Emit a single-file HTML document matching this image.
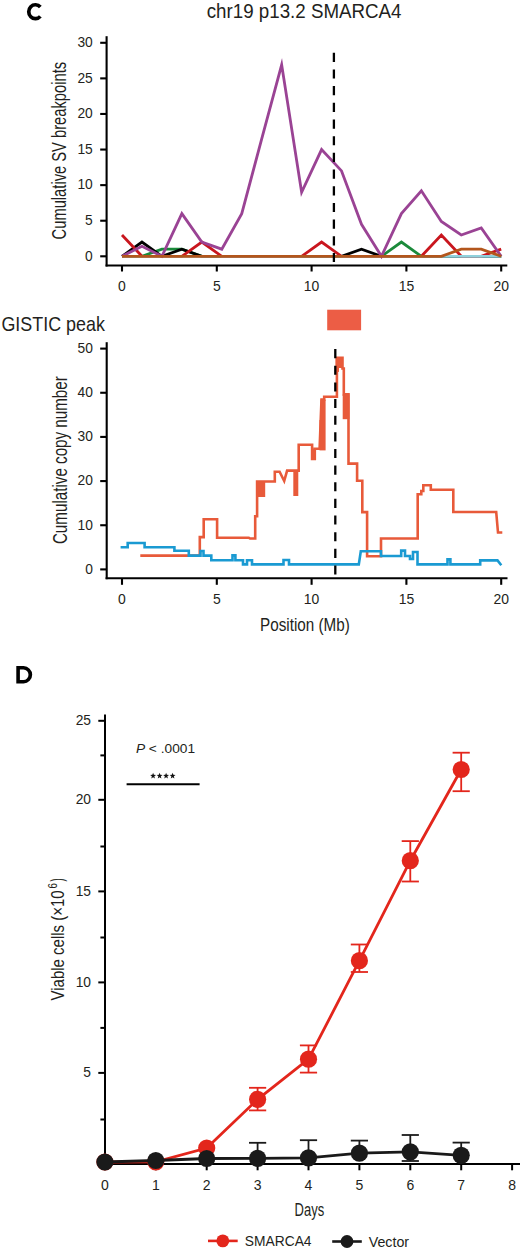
<!DOCTYPE html>
<html><head><meta charset="utf-8"><style>
html,body{margin:0;padding:0;background:#fff;}
svg{display:block;}
</style></head><body>
<svg width="520" height="1250" viewBox="0 0 520 1250">
<rect width="520" height="1250" fill="#fff"/>
<path d="M40.34,7.05 A6.65,6.95 0 1 0 40.34,16.35" fill="none" stroke="#000" stroke-width="3.7"/>
<text transform="translate(206.70,17.80) scale(0.9380,1)" style="font-family:&quot;Liberation Sans&quot;,sans-serif;font-size:20px;font-weight:normal;font-style:normal" fill="#231f20" >chr19 p13.2 SMARCA4</text>
<polyline points="122.00,256.30 141.96,256.30 161.92,249.18 181.87,249.18 201.83,256.30 221.79,256.30 241.75,256.30 261.71,256.30 281.66,256.30 301.62,256.30 321.58,256.30 341.54,256.30 361.49,256.30 381.45,256.30 401.41,242.07 421.37,256.30 441.33,256.30 461.28,256.30 481.24,256.30 501.20,256.30" fill="none" stroke="#1b8a3b" stroke-width="2.8" stroke-linejoin="miter" stroke-miterlimit="10" />
<polyline points="122.00,256.30 141.96,242.07 161.92,256.30 181.87,249.18 201.83,256.30 221.79,256.30 241.75,256.30 261.71,256.30 281.66,256.30 301.62,256.30 321.58,256.30 341.54,256.30 361.49,249.18 381.45,256.30 401.41,256.30 421.37,256.30 441.33,256.30 461.28,256.30 481.24,256.30 501.20,256.30" fill="none" stroke="#000000" stroke-width="2.8" stroke-linejoin="miter" stroke-miterlimit="10" />
<polyline points="122.00,234.95 141.96,256.30 161.92,256.30 181.87,256.30 201.83,242.07 221.79,256.30 241.75,256.30 261.71,256.30 281.66,256.30 301.62,256.30 321.58,242.07 341.54,256.30 361.49,256.30 381.45,256.30 401.41,256.30 421.37,256.30 441.33,234.95 461.28,256.30 481.24,256.30 501.20,249.18" fill="none" stroke="#c9161e" stroke-width="2.8" stroke-linejoin="miter" stroke-miterlimit="10" />
<polyline points="122.00,256.30 141.96,256.30 161.92,256.30 181.87,256.30 201.83,256.30 221.79,256.30 241.75,256.30 261.71,256.30 281.66,256.30 301.62,256.30 321.58,256.30 341.54,256.30 361.49,256.30 381.45,256.30 401.41,256.30 421.37,256.30 441.33,256.30 461.28,256.30 481.24,256.30 501.20,256.30" fill="none" stroke="#8fd1dc" stroke-width="2.8" stroke-linejoin="miter" stroke-miterlimit="10" />
<polyline points="122.00,256.30 141.96,246.34 161.92,256.30 181.87,213.60 201.83,242.07 221.79,249.18 241.75,213.60 261.71,138.87 281.66,64.85 301.62,192.25 321.58,149.55 341.54,170.90 361.49,224.27 381.45,256.30 401.41,213.60 421.37,190.82 441.33,221.43 461.28,234.95 481.24,227.83 501.20,256.30" fill="none" stroke="#9a4394" stroke-width="2.8" stroke-linejoin="miter" stroke-miterlimit="10" />
<polyline points="122.00,256.30 141.96,256.30 161.92,256.30 181.87,256.30 201.83,256.30 221.79,256.30 241.75,256.30 261.71,256.30 281.66,256.30 301.62,256.30 321.58,256.30 341.54,256.30 361.49,256.30 381.45,256.30 401.41,256.30 421.37,256.30 441.33,256.30 461.28,249.18 481.24,249.18 501.20,256.30" fill="none" stroke="#b3561c" stroke-width="2.8" stroke-linejoin="miter" stroke-miterlimit="10" />
<line x1="333.90" y1="52.70" x2="333.90" y2="262.00" stroke="#000" stroke-width="2.3" stroke-dasharray="9.2 7.49"/>
<line x1="106.60" y1="36.20" x2="106.60" y2="266.50" stroke="#000" stroke-width="2.1" />
<line x1="105.60" y1="265.50" x2="507.30" y2="265.50" stroke="#000" stroke-width="2.1" />
<line x1="100.20" y1="256.30" x2="106.60" y2="256.30" stroke="#000" stroke-width="2.1" />
<text transform="translate(85.12,260.60) scale(0.9200,1)" style="font-family:&quot;Liberation Sans&quot;,sans-serif;font-size:15px;font-weight:normal;font-style:normal" fill="#231f20" >0</text>
<line x1="100.20" y1="220.72" x2="106.60" y2="220.72" stroke="#000" stroke-width="2.1" />
<text transform="translate(85.12,225.02) scale(0.9200,1)" style="font-family:&quot;Liberation Sans&quot;,sans-serif;font-size:15px;font-weight:normal;font-style:normal" fill="#231f20" >5</text>
<line x1="100.20" y1="185.13" x2="106.60" y2="185.13" stroke="#000" stroke-width="2.1" />
<text transform="translate(77.44,189.43) scale(0.9200,1)" style="font-family:&quot;Liberation Sans&quot;,sans-serif;font-size:15px;font-weight:normal;font-style:normal" fill="#231f20" >10</text>
<line x1="100.20" y1="149.55" x2="106.60" y2="149.55" stroke="#000" stroke-width="2.1" />
<text transform="translate(77.44,153.85) scale(0.9200,1)" style="font-family:&quot;Liberation Sans&quot;,sans-serif;font-size:15px;font-weight:normal;font-style:normal" fill="#231f20" >15</text>
<line x1="100.20" y1="113.96" x2="106.60" y2="113.96" stroke="#000" stroke-width="2.1" />
<text transform="translate(77.44,118.26) scale(0.9200,1)" style="font-family:&quot;Liberation Sans&quot;,sans-serif;font-size:15px;font-weight:normal;font-style:normal" fill="#231f20" >20</text>
<line x1="100.20" y1="78.38" x2="106.60" y2="78.38" stroke="#000" stroke-width="2.1" />
<text transform="translate(77.44,82.67) scale(0.9200,1)" style="font-family:&quot;Liberation Sans&quot;,sans-serif;font-size:15px;font-weight:normal;font-style:normal" fill="#231f20" >25</text>
<line x1="100.20" y1="42.79" x2="106.60" y2="42.79" stroke="#000" stroke-width="2.1" />
<text transform="translate(77.44,47.09) scale(0.9200,1)" style="font-family:&quot;Liberation Sans&quot;,sans-serif;font-size:15px;font-weight:normal;font-style:normal" fill="#231f20" >30</text>
<line x1="122.00" y1="265.50" x2="122.00" y2="271.50" stroke="#000" stroke-width="2.1" />
<text transform="translate(118.12,290.60) scale(0.9300,1)" style="font-family:&quot;Liberation Sans&quot;,sans-serif;font-size:15px;font-weight:normal;font-style:normal" fill="#231f20" >0</text>
<line x1="216.80" y1="265.50" x2="216.80" y2="271.50" stroke="#000" stroke-width="2.1" />
<text transform="translate(212.92,290.60) scale(0.9300,1)" style="font-family:&quot;Liberation Sans&quot;,sans-serif;font-size:15px;font-weight:normal;font-style:normal" fill="#231f20" >5</text>
<line x1="311.60" y1="265.50" x2="311.60" y2="271.50" stroke="#000" stroke-width="2.1" />
<text transform="translate(303.83,290.60) scale(0.9300,1)" style="font-family:&quot;Liberation Sans&quot;,sans-serif;font-size:15px;font-weight:normal;font-style:normal" fill="#231f20" >10</text>
<line x1="406.40" y1="265.50" x2="406.40" y2="271.50" stroke="#000" stroke-width="2.1" />
<text transform="translate(398.63,290.60) scale(0.9300,1)" style="font-family:&quot;Liberation Sans&quot;,sans-serif;font-size:15px;font-weight:normal;font-style:normal" fill="#231f20" >15</text>
<line x1="501.20" y1="265.50" x2="501.20" y2="271.50" stroke="#000" stroke-width="2.1" />
<text transform="translate(493.43,290.60) scale(0.9300,1)" style="font-family:&quot;Liberation Sans&quot;,sans-serif;font-size:15px;font-weight:normal;font-style:normal" fill="#231f20" >20</text>
<text transform="translate(66.40,239.40) rotate(-90) scale(0.7551,1)" style="font-family:&quot;Liberation Sans&quot;,sans-serif;font-size:19.5px" fill="#231f20">Cumulative SV breakpoints</text>
<text transform="translate(1.40,330.50) scale(0.8958,1)" style="font-family:&quot;Liberation Sans&quot;,sans-serif;font-size:20px;font-weight:normal;font-style:normal" fill="#231f20" >GISTIC peak</text>
<rect x="327.2" y="309.7" width="33.9" height="20.6" fill="#ec5d45"/>
<path d="M140.3,555.6 H199.8 V537.1 H203.7 V519.2 H217.1 V537.7 H248.8 L250.0,538.5 H255.2 V516.2 H257.1 V481.5 H274.8 V471.7 H279.6 L284.2,481.0 L287.1,470.6 H294.6 V494.8 H297.0 V470.6 H298.7 V444.8 H312.1 V459.0 H314.8 V448.7 H319.6 L321.5,399.6 H324.2 V396.7 H336.9 V357.8 H342.5 V368.5 H343.8 V394.4 H348.5 V463.6 H357.1 V480.8 H362.3 V512.1 H367.1 V556.3 H381.0 V538.5 H417.7 V494.2 H421.3 V491.0 H423.3 V485.2 H430.8 V489.8 H453.3 V512.0 H496.2 L498.0,532.5 H502.3" fill="none" stroke="#e85a3a" stroke-width="2.6"/>
<rect x="257.5" y="481" width="7.7" height="16.0" fill="#e85a3a"/>
<rect x="294.2" y="470" width="3.2" height="24.8" fill="#e85a3a"/>
<rect x="311.5" y="449" width="3.3" height="10.0" fill="#e85a3a"/>
<rect x="319.5" y="420" width="6.1" height="30.4" fill="#e85a3a"/>
<rect x="320.5" y="399.6" width="5.1" height="20.4" fill="#e85a3a"/>
<rect x="335.8" y="357.2" width="7.1" height="10.8" fill="#e85a3a"/>
<rect x="335.8" y="357.2" width="3.2" height="14.7" fill="#e85a3a"/>
<rect x="342.7" y="394.4" width="6.7" height="24.8" fill="#e85a3a"/>
<path d="M120.6,547.3 H127.7 V543.0 H144.6 V547.3 H174.4 V550.8 H188.8 V555.6 H200.5 V551.0 H203.5 V555.6 H211.3 V560.2 H232.5 V555.4 H235.4 V560.2 H243.0 V564.4 H247.0 V560.2 H252.0 V564.4 H283.5 V560.0 H289.0 V564.4 H358.8 L360.8,551.2 H381.0 V556.0 H401.2 V550.6 H405.0 V556.0 H410.0 V559.0 H413.0 V552.0 H417.5 V564.4 H447.5 V559.4 H450.4 V564.4 H480.2 V560.4 H497.5 L501.3,565.2" fill="none" stroke="#1a9ad2" stroke-width="2.6"/>
<line x1="335.30" y1="349.10" x2="335.30" y2="575.50" stroke="#000" stroke-width="2.3" stroke-dasharray="9.1 7.54"/>
<line x1="106.70" y1="342.20" x2="106.70" y2="579.20" stroke="#000" stroke-width="2.1" />
<line x1="105.60" y1="578.20" x2="507.50" y2="578.20" stroke="#000" stroke-width="2.1" />
<line x1="100.20" y1="569.40" x2="106.70" y2="569.40" stroke="#000" stroke-width="2.1" />
<text transform="translate(85.22,573.70) scale(0.9200,1)" style="font-family:&quot;Liberation Sans&quot;,sans-serif;font-size:15px;font-weight:normal;font-style:normal" fill="#231f20" >0</text>
<line x1="100.20" y1="525.24" x2="106.70" y2="525.24" stroke="#000" stroke-width="2.1" />
<text transform="translate(77.54,529.54) scale(0.9200,1)" style="font-family:&quot;Liberation Sans&quot;,sans-serif;font-size:15px;font-weight:normal;font-style:normal" fill="#231f20" >10</text>
<line x1="100.20" y1="481.08" x2="106.70" y2="481.08" stroke="#000" stroke-width="2.1" />
<text transform="translate(77.54,485.38) scale(0.9200,1)" style="font-family:&quot;Liberation Sans&quot;,sans-serif;font-size:15px;font-weight:normal;font-style:normal" fill="#231f20" >20</text>
<line x1="100.20" y1="436.92" x2="106.70" y2="436.92" stroke="#000" stroke-width="2.1" />
<text transform="translate(77.54,441.22) scale(0.9200,1)" style="font-family:&quot;Liberation Sans&quot;,sans-serif;font-size:15px;font-weight:normal;font-style:normal" fill="#231f20" >30</text>
<line x1="100.20" y1="392.76" x2="106.70" y2="392.76" stroke="#000" stroke-width="2.1" />
<text transform="translate(77.54,397.06) scale(0.9200,1)" style="font-family:&quot;Liberation Sans&quot;,sans-serif;font-size:15px;font-weight:normal;font-style:normal" fill="#231f20" >40</text>
<line x1="100.20" y1="348.60" x2="106.70" y2="348.60" stroke="#000" stroke-width="2.1" />
<text transform="translate(77.54,352.90) scale(0.9200,1)" style="font-family:&quot;Liberation Sans&quot;,sans-serif;font-size:15px;font-weight:normal;font-style:normal" fill="#231f20" >50</text>
<line x1="122.00" y1="578.20" x2="122.00" y2="584.80" stroke="#000" stroke-width="2.1" />
<text transform="translate(118.12,603.50) scale(0.9300,1)" style="font-family:&quot;Liberation Sans&quot;,sans-serif;font-size:15px;font-weight:normal;font-style:normal" fill="#231f20" >0</text>
<line x1="216.80" y1="578.20" x2="216.80" y2="584.80" stroke="#000" stroke-width="2.1" />
<text transform="translate(212.92,603.50) scale(0.9300,1)" style="font-family:&quot;Liberation Sans&quot;,sans-serif;font-size:15px;font-weight:normal;font-style:normal" fill="#231f20" >5</text>
<line x1="311.60" y1="578.20" x2="311.60" y2="584.80" stroke="#000" stroke-width="2.1" />
<text transform="translate(303.83,603.50) scale(0.9300,1)" style="font-family:&quot;Liberation Sans&quot;,sans-serif;font-size:15px;font-weight:normal;font-style:normal" fill="#231f20" >10</text>
<line x1="406.40" y1="578.20" x2="406.40" y2="584.80" stroke="#000" stroke-width="2.1" />
<text transform="translate(398.63,603.50) scale(0.9300,1)" style="font-family:&quot;Liberation Sans&quot;,sans-serif;font-size:15px;font-weight:normal;font-style:normal" fill="#231f20" >15</text>
<line x1="501.20" y1="578.20" x2="501.20" y2="584.80" stroke="#000" stroke-width="2.1" />
<text transform="translate(493.43,603.50) scale(0.9300,1)" style="font-family:&quot;Liberation Sans&quot;,sans-serif;font-size:15px;font-weight:normal;font-style:normal" fill="#231f20" >20</text>
<text transform="translate(66.60,544.10) rotate(-90) scale(0.7789,1)" style="font-family:&quot;Liberation Sans&quot;,sans-serif;font-size:19.5px" fill="#231f20">Cumulative copy number</text>
<text transform="translate(260.00,630.50) scale(0.8025,1)" style="font-family:&quot;Liberation Sans&quot;,sans-serif;font-size:19px;font-weight:normal;font-style:normal" fill="#231f20" >Position (Mb)</text>
<path fill-rule="evenodd" fill="#000" d="M16.3,666.1 H23.6 A8.6,8.65 0 0 1 23.6,683.4 H16.3 Z M19.9,669.6 H23.4 A5.1,5.15 0 0 1 23.4,679.9 H19.9 Z"/>
<line x1="105.00" y1="714.40" x2="105.00" y2="1165.00" stroke="#000" stroke-width="2.0" />
<line x1="104.00" y1="1164.00" x2="520.00" y2="1164.00" stroke="#000" stroke-width="2.1" />
<line x1="98.30" y1="720.80" x2="105.00" y2="720.80" stroke="#000" stroke-width="2.0" />
<text transform="translate(75.65,725.10) scale(1.0000,1)" style="font-family:&quot;Liberation Sans&quot;,sans-serif;font-size:13.8px;font-weight:normal;font-style:normal" fill="#231f20" >25</text>
<line x1="98.30" y1="799.80" x2="105.00" y2="799.80" stroke="#000" stroke-width="2.0" />
<text transform="translate(75.65,804.10) scale(1.0000,1)" style="font-family:&quot;Liberation Sans&quot;,sans-serif;font-size:13.8px;font-weight:normal;font-style:normal" fill="#231f20" >20</text>
<line x1="98.30" y1="891.40" x2="105.00" y2="891.40" stroke="#000" stroke-width="2.0" />
<text transform="translate(75.65,895.70) scale(1.0000,1)" style="font-family:&quot;Liberation Sans&quot;,sans-serif;font-size:13.8px;font-weight:normal;font-style:normal" fill="#231f20" >15</text>
<line x1="98.30" y1="982.40" x2="105.00" y2="982.40" stroke="#000" stroke-width="2.0" />
<text transform="translate(75.65,986.70) scale(1.0000,1)" style="font-family:&quot;Liberation Sans&quot;,sans-serif;font-size:13.8px;font-weight:normal;font-style:normal" fill="#231f20" >10</text>
<line x1="98.30" y1="1072.90" x2="105.00" y2="1072.90" stroke="#000" stroke-width="2.0" />
<text transform="translate(83.30,1077.20) scale(1.0000,1)" style="font-family:&quot;Liberation Sans&quot;,sans-serif;font-size:13.8px;font-weight:normal;font-style:normal" fill="#231f20" >5</text>
<line x1="100.40" y1="755.40" x2="105.00" y2="755.40" stroke="#000" stroke-width="2.0" />
<line x1="100.40" y1="846.50" x2="105.00" y2="846.50" stroke="#000" stroke-width="2.0" />
<line x1="100.40" y1="937.50" x2="105.00" y2="937.50" stroke="#000" stroke-width="2.0" />
<line x1="100.40" y1="1027.90" x2="105.00" y2="1027.90" stroke="#000" stroke-width="2.0" />
<line x1="100.40" y1="1119.50" x2="105.00" y2="1119.50" stroke="#000" stroke-width="2.0" />
<line x1="104.90" y1="1164.00" x2="104.90" y2="1170.30" stroke="#000" stroke-width="2.0" />
<text transform="translate(101.00,1189.80) scale(1.0000,1)" style="font-family:&quot;Liberation Sans&quot;,sans-serif;font-size:14px;font-weight:normal;font-style:normal" fill="#231f20" >0</text>
<line x1="155.80" y1="1164.00" x2="155.80" y2="1170.30" stroke="#000" stroke-width="2.0" />
<text transform="translate(151.90,1189.80) scale(1.0000,1)" style="font-family:&quot;Liberation Sans&quot;,sans-serif;font-size:14px;font-weight:normal;font-style:normal" fill="#231f20" >1</text>
<line x1="206.70" y1="1164.00" x2="206.70" y2="1170.30" stroke="#000" stroke-width="2.0" />
<text transform="translate(202.80,1189.80) scale(1.0000,1)" style="font-family:&quot;Liberation Sans&quot;,sans-serif;font-size:14px;font-weight:normal;font-style:normal" fill="#231f20" >2</text>
<line x1="257.60" y1="1164.00" x2="257.60" y2="1170.30" stroke="#000" stroke-width="2.0" />
<text transform="translate(253.70,1189.80) scale(1.0000,1)" style="font-family:&quot;Liberation Sans&quot;,sans-serif;font-size:14px;font-weight:normal;font-style:normal" fill="#231f20" >3</text>
<line x1="308.50" y1="1164.00" x2="308.50" y2="1170.30" stroke="#000" stroke-width="2.0" />
<text transform="translate(304.60,1189.80) scale(1.0000,1)" style="font-family:&quot;Liberation Sans&quot;,sans-serif;font-size:14px;font-weight:normal;font-style:normal" fill="#231f20" >4</text>
<line x1="359.40" y1="1164.00" x2="359.40" y2="1170.30" stroke="#000" stroke-width="2.0" />
<text transform="translate(355.50,1189.80) scale(1.0000,1)" style="font-family:&quot;Liberation Sans&quot;,sans-serif;font-size:14px;font-weight:normal;font-style:normal" fill="#231f20" >5</text>
<line x1="410.30" y1="1164.00" x2="410.30" y2="1170.30" stroke="#000" stroke-width="2.0" />
<text transform="translate(406.40,1189.80) scale(1.0000,1)" style="font-family:&quot;Liberation Sans&quot;,sans-serif;font-size:14px;font-weight:normal;font-style:normal" fill="#231f20" >6</text>
<line x1="461.20" y1="1164.00" x2="461.20" y2="1170.30" stroke="#000" stroke-width="2.0" />
<text transform="translate(457.30,1189.80) scale(1.0000,1)" style="font-family:&quot;Liberation Sans&quot;,sans-serif;font-size:14px;font-weight:normal;font-style:normal" fill="#231f20" >7</text>
<line x1="512.10" y1="1164.00" x2="512.10" y2="1170.30" stroke="#000" stroke-width="2.0" />
<text transform="translate(508.20,1189.80) scale(1.0000,1)" style="font-family:&quot;Liberation Sans&quot;,sans-serif;font-size:14px;font-weight:normal;font-style:normal" fill="#231f20" >8</text>
<text transform="translate(294.60,1215.80) scale(0.7023,1)" style="font-family:&quot;Liberation Sans&quot;,sans-serif;font-size:18.5px;font-weight:normal;font-style:normal" fill="#231f20" >Days</text>
<text transform="translate(63.70,1000.50) rotate(-90) scale(0.7894,1)" style="font-family:&quot;Liberation Sans&quot;,sans-serif;font-size:19px" fill="#231f20">Viable cells (×10</text>
<text transform="translate(56.55,888.40) rotate(-90) scale(0.7200,1.0104)" style="font-family:&quot;Liberation Sans&quot;,sans-serif;font-size:13.5px" fill="#231f20">6</text>
<text transform="translate(63.17,881.40) rotate(-90) scale(0.5333,0.9940)" style="font-family:&quot;Liberation Sans&quot;,sans-serif;font-size:18px" fill="#231f20">)</text>
<text x="0" y="0" transform="translate(135.9,752.8) scale(1.04,1)" style="font-family:&quot;Liberation Sans&quot;,sans-serif;font-size:13.2px" fill="#231f20"><tspan style="font-style:italic">P</tspan> &lt; .0001</text>
<polygon points="153.10,772.80 153.86,774.85 156.05,774.94 154.34,776.30 154.92,778.41 153.10,777.20 151.28,778.41 151.86,776.30 150.15,774.94 152.34,774.85" fill="#111"/>
<polygon points="159.60,772.80 160.36,774.85 162.55,774.94 160.84,776.30 161.42,778.41 159.60,777.20 157.78,778.41 158.36,776.30 156.65,774.94 158.84,774.85" fill="#111"/>
<polygon points="166.10,772.80 166.86,774.85 169.05,774.94 167.34,776.30 167.92,778.41 166.10,777.20 164.28,778.41 164.86,776.30 163.15,774.94 165.34,774.85" fill="#111"/>
<polygon points="172.60,772.80 173.36,774.85 175.55,774.94 173.84,776.30 174.42,778.41 172.60,777.20 170.78,778.41 171.36,776.30 169.65,774.94 171.84,774.85" fill="#111"/>
<line x1="126.60" y1="784.30" x2="199.60" y2="784.30" stroke="#000" stroke-width="2.0" />
<line x1="257.60" y1="1099.30" x2="257.60" y2="1087.80" stroke="#e3261c" stroke-width="1.8" />
<line x1="249.00" y1="1087.80" x2="266.20" y2="1087.80" stroke="#e3261c" stroke-width="1.8" />
<line x1="257.60" y1="1099.30" x2="257.60" y2="1110.40" stroke="#e3261c" stroke-width="1.8" />
<line x1="249.00" y1="1110.40" x2="266.20" y2="1110.40" stroke="#e3261c" stroke-width="1.8" />
<line x1="308.50" y1="1059.20" x2="308.50" y2="1045.40" stroke="#e3261c" stroke-width="1.8" />
<line x1="299.90" y1="1045.40" x2="317.10" y2="1045.40" stroke="#e3261c" stroke-width="1.8" />
<line x1="308.50" y1="1059.20" x2="308.50" y2="1072.60" stroke="#e3261c" stroke-width="1.8" />
<line x1="299.90" y1="1072.60" x2="317.10" y2="1072.60" stroke="#e3261c" stroke-width="1.8" />
<line x1="359.40" y1="960.70" x2="359.40" y2="944.50" stroke="#e3261c" stroke-width="1.8" />
<line x1="350.80" y1="944.50" x2="368.00" y2="944.50" stroke="#e3261c" stroke-width="1.8" />
<line x1="359.40" y1="960.70" x2="359.40" y2="972.00" stroke="#e3261c" stroke-width="1.8" />
<line x1="350.80" y1="972.00" x2="368.00" y2="972.00" stroke="#e3261c" stroke-width="1.8" />
<line x1="410.30" y1="860.70" x2="410.30" y2="841.10" stroke="#e3261c" stroke-width="1.8" />
<line x1="401.70" y1="841.10" x2="418.90" y2="841.10" stroke="#e3261c" stroke-width="1.8" />
<line x1="410.30" y1="860.70" x2="410.30" y2="881.50" stroke="#e3261c" stroke-width="1.8" />
<line x1="401.70" y1="881.50" x2="418.90" y2="881.50" stroke="#e3261c" stroke-width="1.8" />
<line x1="461.20" y1="769.50" x2="461.20" y2="752.70" stroke="#e3261c" stroke-width="1.8" />
<line x1="452.60" y1="752.70" x2="469.80" y2="752.70" stroke="#e3261c" stroke-width="1.8" />
<line x1="461.20" y1="769.50" x2="461.20" y2="791.20" stroke="#e3261c" stroke-width="1.8" />
<line x1="452.60" y1="791.20" x2="469.80" y2="791.20" stroke="#e3261c" stroke-width="1.8" />
<polyline points="104.90,1162.00 155.80,1161.80 206.70,1148.00 257.60,1099.30 308.50,1059.20 359.40,960.70 410.30,860.70 461.20,769.50" fill="none" stroke="#e3261c" stroke-width="2.8" stroke-linejoin="miter" stroke-miterlimit="10" />
<circle cx="104.90" cy="1162.00" r="8.6" fill="#e3261c"/>
<circle cx="155.80" cy="1161.80" r="8.6" fill="#e3261c"/>
<circle cx="206.70" cy="1148.00" r="8.6" fill="#e3261c"/>
<circle cx="257.60" cy="1099.30" r="8.6" fill="#e3261c"/>
<circle cx="308.50" cy="1059.20" r="8.6" fill="#e3261c"/>
<circle cx="359.40" cy="960.70" r="8.6" fill="#e3261c"/>
<circle cx="410.30" cy="860.70" r="8.6" fill="#e3261c"/>
<circle cx="461.20" cy="769.50" r="8.6" fill="#e3261c"/>
<line x1="257.60" y1="1158.40" x2="257.60" y2="1142.80" stroke="#1a1a1a" stroke-width="1.8" />
<line x1="249.00" y1="1142.80" x2="266.20" y2="1142.80" stroke="#1a1a1a" stroke-width="1.8" />
<line x1="308.50" y1="1157.90" x2="308.50" y2="1140.20" stroke="#1a1a1a" stroke-width="1.8" />
<line x1="299.90" y1="1140.20" x2="317.10" y2="1140.20" stroke="#1a1a1a" stroke-width="1.8" />
<line x1="359.40" y1="1153.20" x2="359.40" y2="1140.60" stroke="#1a1a1a" stroke-width="1.8" />
<line x1="350.80" y1="1140.60" x2="368.00" y2="1140.60" stroke="#1a1a1a" stroke-width="1.8" />
<line x1="410.30" y1="1151.80" x2="410.30" y2="1135.00" stroke="#1a1a1a" stroke-width="1.8" />
<line x1="401.70" y1="1135.00" x2="418.90" y2="1135.00" stroke="#1a1a1a" stroke-width="1.8" />
<line x1="410.30" y1="1151.80" x2="410.30" y2="1161.00" stroke="#1a1a1a" stroke-width="1.8" />
<line x1="401.70" y1="1161.00" x2="418.90" y2="1161.00" stroke="#1a1a1a" stroke-width="1.8" />
<line x1="461.20" y1="1155.30" x2="461.20" y2="1142.60" stroke="#1a1a1a" stroke-width="1.8" />
<line x1="452.60" y1="1142.60" x2="469.80" y2="1142.60" stroke="#1a1a1a" stroke-width="1.8" />
<polyline points="104.90,1162.00 155.80,1160.50 206.70,1158.50 257.60,1158.40 308.50,1157.90 359.40,1153.20 410.30,1151.80 461.20,1155.30" fill="none" stroke="#1a1a1a" stroke-width="2.8" stroke-linejoin="miter" stroke-miterlimit="10" />
<circle cx="104.90" cy="1162.00" r="8.6" fill="#1a1a1a"/>
<circle cx="155.80" cy="1160.50" r="8.6" fill="#1a1a1a"/>
<circle cx="206.70" cy="1158.50" r="8.6" fill="#1a1a1a"/>
<circle cx="257.60" cy="1158.40" r="8.6" fill="#1a1a1a"/>
<circle cx="308.50" cy="1157.90" r="8.6" fill="#1a1a1a"/>
<circle cx="359.40" cy="1153.20" r="8.6" fill="#1a1a1a"/>
<circle cx="410.30" cy="1151.80" r="8.6" fill="#1a1a1a"/>
<circle cx="461.20" cy="1155.30" r="8.6" fill="#1a1a1a"/>
<line x1="208.00" y1="1240.90" x2="237.70" y2="1240.90" stroke="#e3261c" stroke-width="2.6" />
<circle cx="222.8" cy="1240.9" r="6.4" fill="#e3261c"/>
<text transform="translate(244.80,1246.20) scale(0.9336,1)" style="font-family:&quot;Liberation Sans&quot;,sans-serif;font-size:14.8px;font-weight:normal;font-style:normal" fill="#231f20" >SMARCA4</text>
<line x1="332.20" y1="1241.50" x2="361.80" y2="1241.50" stroke="#1a1a1a" stroke-width="2.6" />
<circle cx="347" cy="1241.5" r="6.4" fill="#1a1a1a"/>
<text transform="translate(368.70,1246.50) scale(0.9631,1)" style="font-family:&quot;Liberation Sans&quot;,sans-serif;font-size:14.8px;font-weight:normal;font-style:normal" fill="#231f20" >Vector</text>
</svg>
</body></html>
